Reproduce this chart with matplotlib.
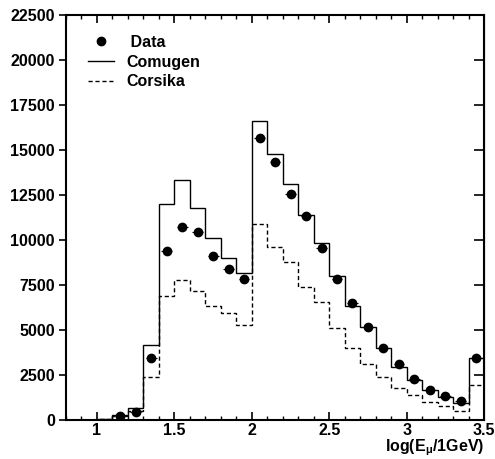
import numpy as np
import matplotlib
matplotlib.use("Agg")
import matplotlib.pyplot as plt
from matplotlib.lines import Line2D
from matplotlib.ticker import MultipleLocator

plt.rcParams['font.family'] = ['Liberation Sans', 'DejaVu Sans']
plt.rcParams['font.weight'] = 'bold'
plt.rcParams['mathtext.fontset'] = 'custom'
plt.rcParams['mathtext.rm'] = 'Liberation Sans:bold'
plt.rcParams['mathtext.it'] = 'Liberation Sans:bold'

# bin edges in log(E/1GeV)
edges = np.round(np.arange(0.8, 3.51, 0.1), 2)

comugen = [0, 10, 50, 250, 650, 4150, 12020, 13320, 11800, 10090, 9020, 8190,
           16630, 14800, 13090, 11370, 9820, 8020, 6330, 5170, 3980, 2960,
           2220, 1650, 1280, 930, 3430]
corsika = [0, 0, 30, 200, 500, 2410, 6910, 7780, 7170, 6330, 5960, 5280,
           10910, 9640, 8800, 7410, 6570, 5130, 4020, 3090, 2370, 1780,
           1370, 1020, 800, 500, 1940]

data_x = [1.15, 1.25, 1.35, 1.45, 1.55, 1.65, 1.75, 1.85, 1.95, 2.05, 2.15,
          2.25, 2.35, 2.45, 2.55, 2.65, 2.75, 2.85, 2.95, 3.05, 3.15, 3.25,
          3.35, 3.45]
data_y = [220, 430, 3450, 9400, 10750, 10430, 9130, 8390, 7830, 15680, 14320,
          12580, 11320, 9540, 7830, 6480, 5170, 3980, 3090, 2300, 1690, 1310,
          1040, 3460]

fig = plt.figure(figsize=(4.95, 4.59), dpi=100)
ax = fig.add_axes([0.1333, 0.085, 0.8447, 0.882])

ax.stairs(comugen, edges, color='black', lw=1.0)
ax.stairs(corsika, edges, color='black', lw=1.0, linestyle=(0, (3, 2)))
ax.errorbar(data_x, data_y, xerr=0.035, fmt='o', color='black', ms=6,
            elinewidth=0.8, capsize=0)

ax.set_xlim(0.8, 3.5)
ax.set_ylim(0, 22500)
ax.xaxis.set_minor_locator(MultipleLocator(0.1))
ax.yaxis.set_major_locator(MultipleLocator(2500))
ax.set_xticks([1, 1.5, 2, 2.5, 3, 3.5])
ax.set_xticklabels(['1', '1.5', '2', '2.5', '3', '3.5'])

ax.tick_params(axis='x', which='major', direction='in', top=True, length=6,
               width=1.2, labelsize=11.5, pad=2)
ax.tick_params(axis='x', which='minor', direction='in', top=True, length=3,
               width=1.0)
ax.tick_params(axis='y', which='major', direction='out', right=False, length=5,
               width=1.2, labelsize=11.5, pad=3)
for s in ax.spines.values():
    s.set_linewidth(1.5)

# right side ticks point inward
ax2 = ax.secondary_yaxis('right')
ax2.yaxis.set_major_locator(MultipleLocator(2500))
ax2.tick_params(direction='in', length=7, width=1.2, labelright=False)

ax.text(1.0, -0.043, r'log(E$_\mu$/1GeV)', transform=ax.transAxes,
        ha='right', va='top', fontsize=11.5, fontweight='bold')

handles = [Line2D([], [], marker='o', color='black', ls='none', ms=6),
           Line2D([], [], color='black', lw=1.0),
           Line2D([], [], color='black', lw=1.0, ls=(0, (3, 2)))]
ax.legend(handles, [' Data', 'Comugen', 'Corsika'], loc='upper left',
          bbox_to_anchor=(0.03, 0.975), frameon=False, fontsize=11.5,
          handlelength=1.6, handletextpad=0.8, labelspacing=0.3,
          borderaxespad=0.2)

fig.savefig('out.png', dpi=100)
